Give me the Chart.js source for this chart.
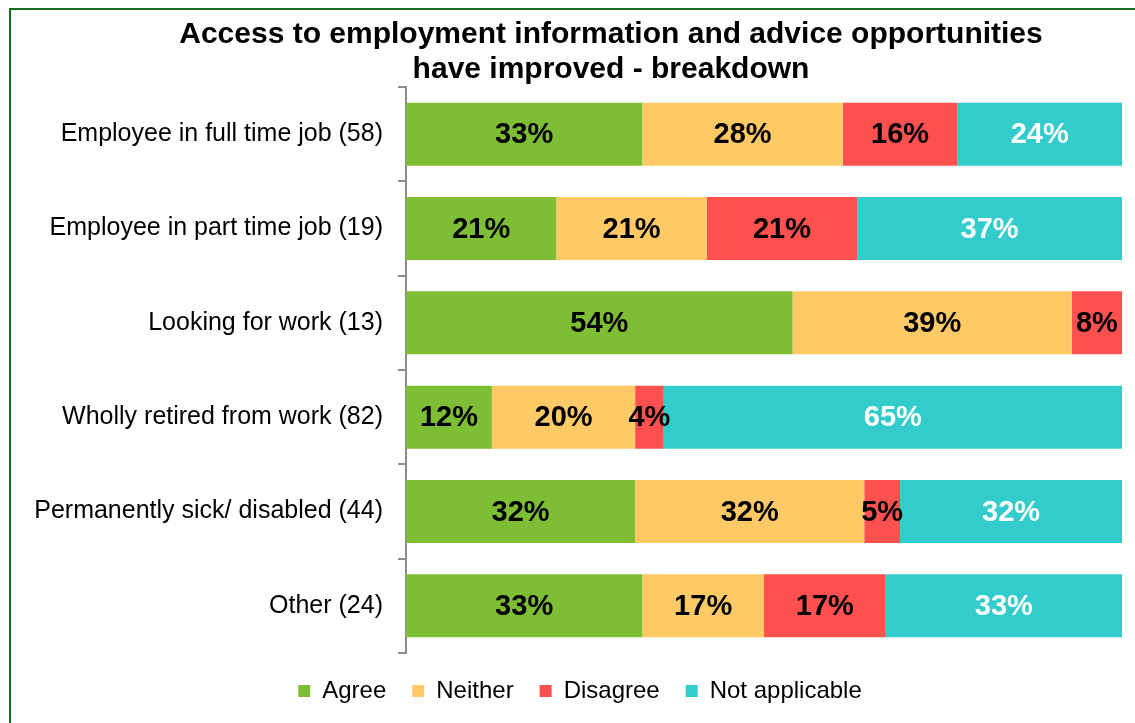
<!DOCTYPE html>
<html lang="en">
<head>
    <meta charset="UTF-8">
    <title>Access to employment information - breakdown</title>
    <script src="https://cdn.jsdelivr.net/npm/chart.js"></script>
    <style>
        body {
            margin: 0;
            background: #fff;
        }
        #frame {
            position: absolute;
            left: 9px;
            top: 8px;
            width: 1140px;
            height: 730px;
            border-left: 2px solid #176b1f;
            border-top: 2px solid #176b1f;
        }
        #chartContainer {
            position: absolute;
            left: 0;
            top: 0;
            width: 1135px;
            height: 723px;
        }
    </style>
</head>
<body>

<div id="frame"></div>
<div id="chartContainer">
    <canvas id="breakdownChart"></canvas>
</div>

<script>
    // Respondent groups (with base sizes) and the share giving each answer, in %
    const categories = [
        'Employee in full time job (58)',
        'Employee in part time job (19)',
        'Looking for work (13)',
        'Wholly retired from work (82)',
        'Permanently sick/ disabled (44)',
        'Other (24)'
    ];
    const agree = [33, 21, 54, 12, 32, 33];
    const neither = [28, 21, 39, 20, 32, 17];
    const disagree = [16, 21, 8, 4, 5, 17];
    const notApplicable = [24, 37, 0, 65, 32, 33];

    const FONT = '"Liberation Sans", Arial, sans-serif';

    // Percentage written in the middle of each segment
    const barLabels = {
        id: 'barLabels',
        afterDatasetsDraw(chart) {
            const ctx = chart.ctx;
            const right = chart.chartArea.right;
            ctx.save();
            ctx.font = 'bold 29px ' + FONT;
            ctx.textAlign = 'center';
            ctx.textBaseline = 'middle';
            chart.data.datasets.forEach((ds, i) => {
                chart.getDatasetMeta(i).data.forEach((bar, j) => {
                    const v = ds.data[j];
                    if (!v) return;
                    const x = (bar.base + Math.min(bar.x, right)) / 2;
                    ctx.fillStyle = ds.labelColor;
                    ctx.fillText(v + '%', x, bar.y + 1);
                });
            });
            ctx.restore();
        }
    };

    // title and legend are centred on the frame, not on the canvas
    const shiftBlocks = {
        id: 'shiftBlocks',
        afterLayout(chart) {
            chart.titleBlock.left += 50;
            chart.titleBlock.right += 50;
            chart.legend.left += 19;
            chart.legend.right += 19;
        }
    };

    const ctx = document.getElementById('breakdownChart').getContext('2d');
    const breakdownChart = new Chart(ctx, {
        type: 'bar',
        data: {
            labels: categories,
            datasets: [
                { label: 'Agree', data: agree, backgroundColor: '#7dbe34', labelColor: '#000' },
                { label: 'Neither', data: neither, backgroundColor: '#ffca66', labelColor: '#000' },
                { label: 'Disagree', data: disagree, backgroundColor: '#ff5050', labelColor: '#000' },
                { label: 'Not applicable', data: notApplicable, backgroundColor: '#33cccc', labelColor: '#fff' }
            ]
        },
        options: {
            indexAxis: 'y',
            responsive: true,
            maintainAspectRatio: false,
            animation: false,
            datasets: {
                bar: {
                    borderWidth: 0,
                    categoryPercentage: 1,
                    barPercentage: 0.667
                }
            },
            layout: {
                padding: { left: 0, right: 13, top: 0, bottom: 10 }
            },
            scales: {
                x: {
                    stacked: true,
                    display: false,
                    min: 0,
                    max: 100
                },
                y: {
                    stacked: true,
                    afterFit: (scale) => { scale.width = 406; },
                    border: { display: true, color: '#8c8c8c', width: 2 },
                    grid: {
                        drawOnChartArea: false,
                        drawTicks: true,
                        tickLength: 8,
                        color: '#8c8c8c',
                        lineWidth: 2
                    },
                    ticks: {
                        color: '#000',
                        padding: 15,
                        font: { family: FONT, size: 25 }
                    }
                }
            },
            plugins: {
                title: {
                    display: true,
                    text: ['Access to employment information and advice opportunities', 'have improved - breakdown'],
                    color: '#000',
                    font: { family: FONT, size: 30, weight: 'bold', lineHeight: 1.1667 },
                    padding: { top: 17, bottom: 0 }
                },
                legend: {
                    position: 'bottom',
                    labels: {
                        color: '#000',
                        boxWidth: 12,
                        boxHeight: 12,
                        padding: 26,
                        font: { family: FONT, size: 24 }
                    }
                },
                tooltip: { enabled: false }
            }
        },
        plugins: [barLabels, shiftBlocks]
    });
</script>

</body>
</html>
